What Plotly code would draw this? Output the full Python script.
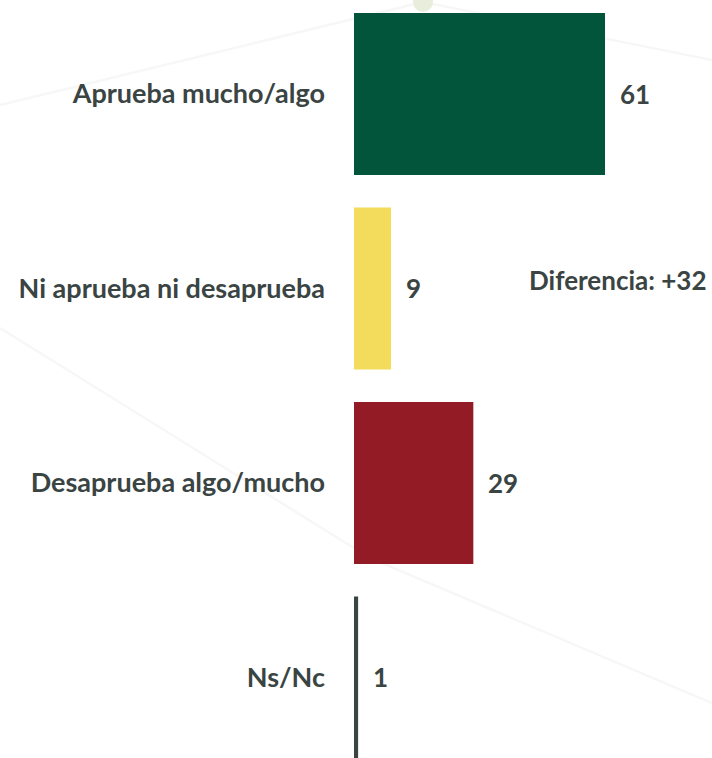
import plotly.graph_objects as go

categories = ["Aprueba mucho/algo", "Ni aprueba ni desaprueba", "Desaprueba algo/mucho", "Ns/Nc"]
values = [61, 9, 29, 1]
colors = ["#02543a", "#f3db5b", "#931b26", "#3a4443"]
diff_label = "Diferencia: +32"

TXT = "#3a4443"
FONT = "Lato"
FS = 27

W, H = 712, 758
ML = 354

def px(x):  # figure pixel x -> paper x (plot area spans ML..W)
    return (x - ML) / (W - ML)

def py(y):  # figure pixel y -> paper y
    return 1 - y / H

fig = go.Figure()
fig.add_trace(go.Bar(
    y=categories, x=values, orientation="h",
    marker=dict(color=colors, line=dict(width=0)),
    width=0.833, hoverinfo="skip",
))

for c, v in zip(categories, values):
    fig.add_annotation(x=v, y=c, text=str(v), showarrow=False,
                       xanchor="left", xshift=13,
                       font=dict(family=FONT, size=FS - 1, color=TXT, weight="bold"))

fig.add_annotation(xref="paper", x=1, y=categories[1], text=diff_label, showarrow=False,
                   xanchor="right", xshift=-4, yshift=8,
                   font=dict(family=FONT, size=FS - 1, color=TXT, weight="bold"))

# faint decorative background lines (figure pixel coords)
bg_lines = [
    (0, 105, 423, 2),
    (423, 2, 712, 60),
    (0, 328, 370, 558),
    (370, 558, 712, 703),
]
for x0, y0, x1, y1 in bg_lines:
    fig.add_shape(type="line", xref="paper", yref="paper",
                  x0=px(x0), y0=py(y0), x1=px(x1), y1=py(y1),
                  line=dict(color="#f6f7f6", width=2.5), layer="below")
fig.add_shape(type="circle", xref="paper", yref="paper",
              x0=px(413), y0=py(-8), x1=px(433), y1=py(12),
              fillcolor="#e9eddc", line=dict(width=0), layer="below")

fig.update_layout(
    width=W, height=H,
    margin=dict(l=ML, r=0, t=0, b=0),
    paper_bgcolor="white", plot_bgcolor="rgba(0,0,0,0)",
    showlegend=False,
    xaxis=dict(range=[0, 87], visible=False, fixedrange=True),
    yaxis=dict(range=[3.414, -0.483], showgrid=False, zeroline=False, showline=False,
               ticks="", ticklabelstandoff=28, fixedrange=True,
               tickfont=dict(family=FONT, size=FS, color=TXT, weight="bold")),
    font=dict(family=FONT),
)
fig.write_html("out.html", config={"displayModeBar": False},
               post_script="document.body.style.margin='0';")
